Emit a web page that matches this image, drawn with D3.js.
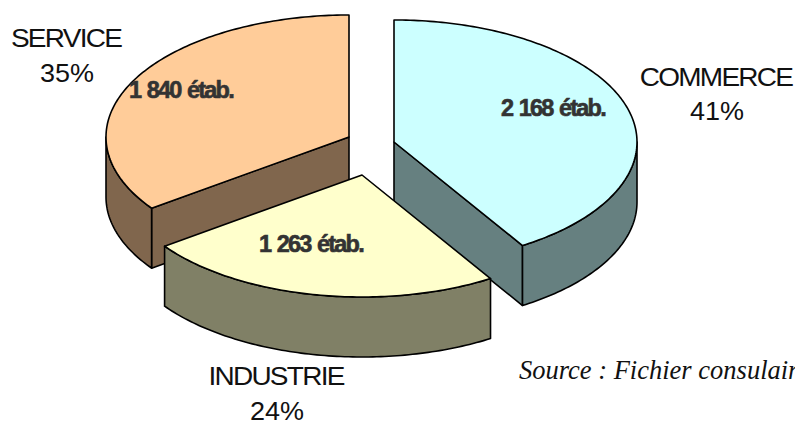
<!DOCTYPE html>
<html>
<head>
<meta charset="utf-8">
<script src="https://cdn.jsdelivr.net/npm/d3@7"></script>
<style>
  html, body { margin: 0; padding: 0; background: #fff; overflow: hidden; }
  svg { display: block; }
</style>
</head>
<body>
<div id="chart"></div>
<script>
// values
const categories = ["COMMERCE", "INDUSTRIE", "SERVICE"];
const shares = ["41%", "24%", "35%"];
const counts = [2168, 1263, 1840];
const countLabels = ["2 168 étab.", "1 263 étab.", "1 840 étab."];
const sourceText = "Source : Fichier consulaire";

const width = 795, height = 421;
const topColors = ["#ccffff", "#ffffcc", "#ffcc99"];
const sideColors = ["#668080", "#808066", "#80664d"];

// ellipse of the tilted pie, wall height, and where each slice was pulled to
const radiusX = 243, radiusY = 122, depth = 60;
const centers = [[394, 142], [362, 175], [349, 137]];
const countPos = [[553, 116], [311, 252], [181, 98]];
const labelPos = [[716, 86, 120], [276, 385, 420], [66, 47, 82]];

const svg = d3.select("#chart").append("svg")
  .attr("width", width)
  .attr("height", height);

const slices = d3.pie().sort(null)(counts);
const line = d3.line();

// pie angle (clockwise from the top) to a point on the rim
function rim(center, angle, drop) {
  return [center[0] + radiusX * Math.sin(angle),
          center[1] - radiusY * Math.cos(angle) + drop];
}

function arcPoints(center, a0, a1, drop) {
  let n = Math.max(2, Math.ceil((a1 - a0) * 60));
  return d3.range(n + 1).map(i => rim(center, a0 + (a1 - a0) * i / n, drop));
}

function drawSlice(i) {
  let s = slices[i], c = centers[i];
  let g = svg.append("g")
    .attr("stroke", "#000")
    .attr("stroke-width", 1.6)
    .attr("stroke-linejoin", "round");
  let apex = c, apexLow = [c[0], c[1] + depth];

  // flat cut faces, only those turned to the viewer
  if (Math.sin(s.startAngle) < 0) {
    let p = rim(c, s.startAngle, 0), q = rim(c, s.startAngle, depth);
    g.append("path").attr("fill", sideColors[i]).attr("d", line([apex, p, q, apexLow]) + "Z");
  }
  if (Math.sin(s.endAngle) > 0) {
    let p = rim(c, s.endAngle, 0), q = rim(c, s.endAngle, depth);
    g.append("path").attr("fill", sideColors[i]).attr("d", line([apex, p, q, apexLow]) + "Z");
  }

  // curved wall, the part of the rim facing down
  let a0 = Math.max(s.startAngle, Math.PI / 2);
  let a1 = Math.min(s.endAngle, Math.PI * 1.5);
  if (a1 > a0) {
    let wall = arcPoints(c, a0, a1, 0).concat(arcPoints(c, a0, a1, depth).reverse());
    g.append("path").attr("fill", sideColors[i]).attr("d", line(wall) + "Z");
  }

  // top face
  let face = [apex].concat(arcPoints(c, s.startAngle, s.endAngle, 0));
  g.append("path").attr("fill", topColors[i]).attr("d", line(face) + "Z");
}

// back slices first, the yellow one sits in front
[2, 0, 1].forEach(drawSlice);

svg.selectAll("text.count")
  .data(countLabels)
  .join("text")
  .attr("class", "count")
  .attr("x", (d, i) => countPos[i][0])
  .attr("y", (d, i) => countPos[i][1])
  .attr("text-anchor", "middle")
  .attr("font-family", "Liberation Sans")
  .attr("font-weight", "bold")
  .attr("font-size", 23.5)
  .attr("letter-spacing", -1.8)
  .attr("word-spacing", 1.7)
  .attr("fill", "#333")
  .attr("stroke", "#333")
  .attr("stroke-width", 0.6)
  .text(d => d);

// the original labels are stretched sideways and set tight
svg.selectAll("text.cat")
  .data(categories)
  .join("text")
  .attr("class", "cat")
  .attr("transform", (d, i) => `translate(${labelPos[i][0]},${labelPos[i][1]}) scale(1.12,1)`)
  .attr("text-anchor", "middle")
  .attr("font-family", "Liberation Sans")
  .attr("font-size", 25)
  .attr("letter-spacing", -1.55)
  .attr("fill", "#111")
  .text(d => d);

svg.selectAll("text.share")
  .data(shares)
  .join("text")
  .attr("class", "share")
  .attr("transform", (d, i) => `translate(${labelPos[i][0] + 1},${labelPos[i][2]}) scale(1.08,1)`)
  .attr("text-anchor", "middle")
  .attr("font-family", "Liberation Sans")
  .attr("font-size", 25)
  .attr("fill", "#111")
  .text(d => d);

svg.append("text")
  .attr("x", 519)
  .attr("y", 379)
  .attr("font-family", "Liberation Serif")
  .attr("font-style", "italic")
  .attr("font-size", 26.5)
  .attr("fill", "#111")
  .text(sourceText);
</script>
</body>
</html>
